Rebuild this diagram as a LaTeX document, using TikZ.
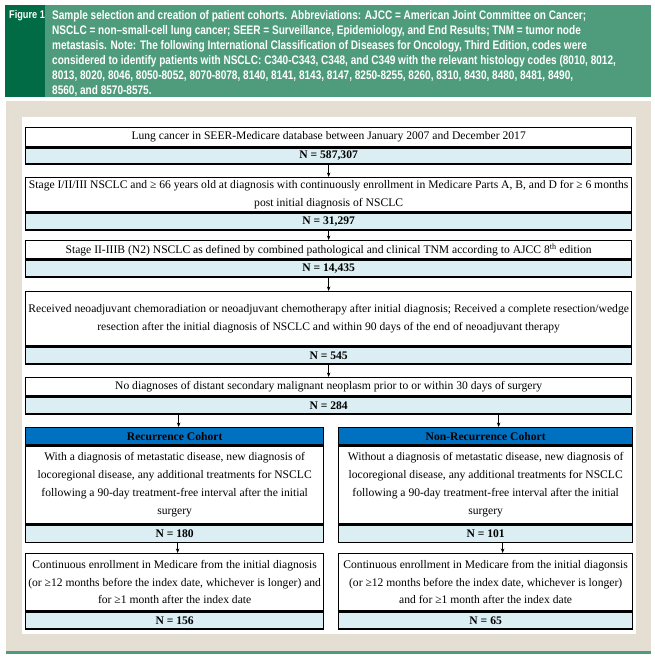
\documentclass[tikz,border=0pt]{standalone}
\usepackage{fontspec}
\setmainfont{Liberation Serif}
\newfontfamily\hdr[FakeStretch=0.81]{Liberation Sans}
\newfontfamily\hdrfig[FakeStretch=0.82]{Liberation Sans}
\usetikzlibrary{arrows.meta}
\definecolor{dkgreen}{HTML}{006B45}
\definecolor{ltgreen}{HTML}{4E9C7C}
\definecolor{beige}{HTML}{E5DFD3}
\definecolor{cohblue}{HTML}{0070C0}
\definecolor{nblue}{HTML}{DAEEF3}
\tikzset{
  box/.style={draw=black, line width=1.3pt, fill=white, align=center, inner xsep=1pt, inner ysep=0pt,
    anchor=north west, font=\fontsize{11.6}{17.5}\selectfont},
  cohtext/.style={box, font=\fontsize{11.6}{18}\selectfont},
  nrow/.style={box, fill=nblue, font=\bfseries\fontsize{11.6}{12}\selectfont},
  cohhead/.style={box, fill=cohblue, font=\bfseries\fontsize{11.6}{12}\selectfont},
  arr/.style={-{Stealth[length=4.5pt,width=3.5pt]}, line width=0.6pt},
  hdrtext/.style={text=white, anchor=north west, align=left, inner sep=0pt,
    font=\hdr\bfseries\fontsize{12.4}{15}\selectfont}
}
\begin{document}
\begin{tikzpicture}[x=1pt,y=-1pt]
\useasboundingbox (0,0) rectangle (654,658);
% header
\fill[ltgreen] (45,5) rectangle (651,97);
\fill[dkgreen] (5,5) rectangle (45,97);
\node[hdrtext, font=\hdrfig\bfseries\fontsize{11.2}{15}\selectfont] (fig) at (9,10) {Figure 1};
\node[hdrtext] (cap) at (52,10) {Sample selection and creation of patient cohorts. Abbreviations: AJCC = American Joint Committee on Cancer;\\
NSCLC = non–small-cell lung cancer; SEER = Surveillance, Epidemiology, and End Results; TNM = tumor node\\
metastasis. Note: The following International Classification of Diseases for Oncology, Third Edition, codes were\\
considered to identify patients with NSCLC: C340-C343, C348, and C349 with the relevant histology codes (8010, 8012,\\
8013, 8020, 8046, 8050-8052, 8070-8078, 8140, 8141, 8143, 8147, 8250-8255, 8260, 8310, 8430, 8480, 8481, 8490,\\
8560, and 8570-8575.};
% background
\fill[beige] (6,101) rectangle (651,651);
\fill[ltgreen] (6,651) rectangle (651,654);
\fill[white] (22,117) rectangle (636,634);
% main boxes
\node[box, minimum width=606pt, minimum height=19pt] (t1) at (25,127)
  {Lung cancer in SEER-Medicare database between January 2007 and December 2017};
\node[nrow, minimum width=606pt, minimum height=16pt] (n1) at (t1.south west) {N = 587,307};
\node[box, minimum width=606pt, minimum height=34pt] (t2) at (25,177)
  {Stage I/II/III NSCLC and ≥ 66 years old at diagnosis with continuously enrollment in Medicare Parts A, B, and D for ≥ 6 months\\ post initial diagnosis of NSCLC};
\node[nrow, minimum width=606pt, minimum height=17pt] (n2) at (t2.south west) {N = 31,297};
\node[box, minimum width=606pt, minimum height=18pt] (t3) at (25,240)
  {Stage II-IIIB (N2) NSCLC as defined by combined pathological and clinical TNM according to AJCC 8\textsuperscript{th} edition};
\node[nrow, minimum width=606pt, minimum height=17pt] (n3) at (t3.south west) {N = 14,435};
\node[box, minimum width=606pt, minimum height=54pt] (t4) at (25,291)
  {Received neoadjuvant chemoradiation or neoadjuvant chemotherapy after initial diagnosis; Received a complete resection/wedge\\ resection after the initial diagnosis of NSCLC and within 90 days of the end of neoadjuvant therapy};
\node[nrow, minimum width=606pt, minimum height=17pt] (n4) at (t4.south west) {N = 545};
\node[box, minimum width=606pt, minimum height=18pt] (t5) at (25,377)
  {No diagnoses of distant secondary malignant neoplasm prior to or within 30 days of surgery};
\node[nrow, minimum width=606pt, minimum height=17pt] (n5) at (t5.south west) {N = 284};
% cohorts
\node[cohhead, minimum width=298pt, minimum height=17pt] (lh) at (25,427) {Recurrence Cohort};
\node[cohtext, minimum width=298pt, minimum height=78pt] (lt) at (lh.south west)
  {With a diagnosis of metastatic disease, new diagnosis of\\ locoregional disease, any additional treatments for NSCLC\\ following a 90-day treatment-free interval after the initial\\ surgery};
\node[nrow, minimum width=298pt, minimum height=17pt] (ln) at (lt.south west) {N = 180};
\node[box, minimum width=298pt, minimum height=57pt] (lt2) at (25,553)
  {Continuous enrollment in Medicare from the initial diagnosis\\ (or ≥12 months before the index date, whichever is longer) and\\ for ≥1 month after the index date};
\node[nrow, minimum width=298pt, minimum height=17pt] (ln2) at (lt2.south west) {N = 156};
\node[cohhead, minimum width=294pt, minimum height=17pt] (rh) at (338,427) {Non-Recurrence Cohort};
\node[cohtext, minimum width=294pt, minimum height=78pt] (rt) at (rh.south west)
  {Without a diagnosis of metastatic disease, new diagnosis of\\ locoregional disease, any additional treatments for NSCLC\\ following a 90-day treatment-free interval after the initial\\ surgery};
\node[nrow, minimum width=294pt, minimum height=17pt] (rn) at (rt.south west) {N = 101};
\node[box, minimum width=294pt, minimum height=57pt] (rt2) at (338,553)
  {Continuous enrollment in Medicare from the initial diagonsis\\ (or ≥12 months before the index date, whichever is longer)\\ and for ≥1 month after the index date};
\node[nrow, minimum width=294pt, minimum height=17pt] (rn2) at (rt2.south west) {N = 65};
% arrows
\draw[arr] (n1.south) -- (t2.north);
\draw[arr] (n2.south) -- (t3.north);
\draw[arr] (n3.south) -- (t4.north);
\draw[arr] (n4.south) -- (t5.north);
\draw[arr] ([xshift=4pt]n5.south -| lh.north) -- ([xshift=4pt]lh.north);
\draw[arr] ([xshift=13pt]n5.south -| rh.north) -- ([xshift=13pt]rh.north);
\draw[arr] ([xshift=3pt]ln.south) -- ([xshift=3pt]lt2.north);
\draw[arr] ([xshift=17pt]rn.south) -- ([xshift=17pt]rt2.north);
\end{tikzpicture}
\end{document}
